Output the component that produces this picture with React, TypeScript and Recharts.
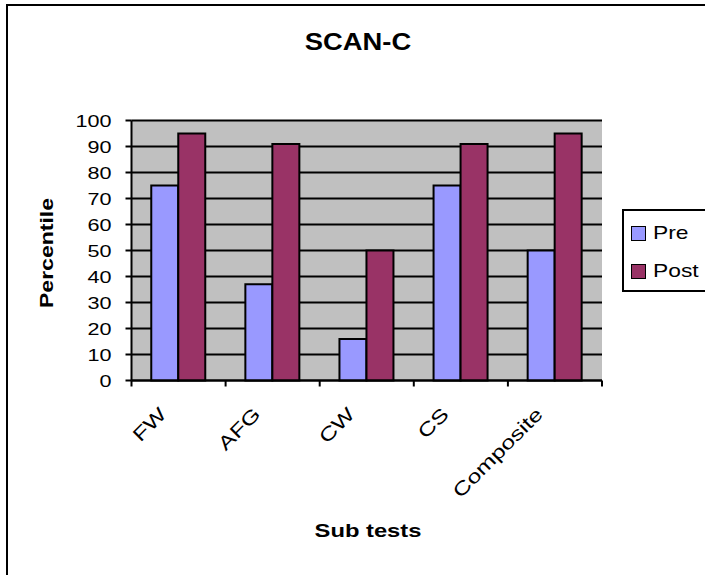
import { Bar, BarChart, CartesianGrid, Legend, ReferenceArea, XAxis, YAxis } from "recharts";

const subTests = ["FW", "AFG", "CW", "CS", "Composite"];
const preScores = [75, 37, 16, 75, 50];
const postScores = [95, 91, 50, 91, 95];
const percentileTicks = [0, 10, 20, 30, 40, 50, 60, 70, 80, 90, 100];
const seriesNames = ["Pre", "Post"];
const seriesColors = ["#9999FF", "#993366"];

const data = subTests.map((name, i) => ({ name, Pre: preScores[i], Post: postScores[i] }));

const W = 705;
const H = 575;
const plotLeft = 131.5;
const plotTop = 120.5;
const plotRight = 602;
const plotBottom = 380.5;
const yAxisW = 60;
const xAxisH = 60;
const band = (plotRight - plotLeft) / subTests.length;
const font = "'Liberation Sans', Arial, sans-serif";

const YTick = (props: any) => {
    const { y, payload } = props;
    return (
        <g transform={`translate(${plotLeft - 20},${y + 6}) scale(1.35,1)`}>
            <text x={0} y={0} textAnchor="end" fontSize={16} fontFamily={font} fill="#000">
                {payload.value}
            </text>
        </g>
    );
};

const XTick = (props: any) => {
    const { x, payload, index } = props;
    const last = index === subTests.length - 1;
    return (
        <g>
            <line x1={x - band / 2} x2={x - band / 2} y1={plotBottom} y2={plotBottom + 6} stroke="#000" strokeWidth={2} />
            {last && (
                <line x1={x + band / 2} x2={x + band / 2} y1={plotBottom} y2={plotBottom + 6} stroke="#000" strokeWidth={2} />
            )}
            <g transform={`translate(${x - 11},${plotBottom + 35}) rotate(-45)`}>
                <text x={0} y={0} textAnchor="end" fontSize={19} fontFamily={font} fill="#000" transform="scale(1.3,1)">
                    {payload.value}
                </text>
            </g>
        </g>
    );
};

const LegendBox = () => (
    <div
        style={{
            width: 110,
            height: 79,
            border: "2px solid #000",
            background: "#fff",
            position: "relative",
            fontFamily: font,
        }}
    >
        {seriesNames.map((s, i) => (
            <div key={s} style={{ position: "absolute", left: 7, top: 14 + i * 38, display: "flex", alignItems: "center" }}>
                <div style={{ width: 13, height: 13, background: seriesColors[i], border: "1.5px solid #000" }} />
                <span
                    style={{
                        marginLeft: 7,
                        fontSize: 19,
                        display: "inline-block",
                        transform: "scaleX(1.2)",
                        transformOrigin: "left center",
                        lineHeight: "16px",
                    }}
                >
                    {s}
                </span>
            </div>
        ))}
    </div>
);

const App = () => {
    return (
        <div style={{ position: "fixed", left: 0, top: 0, width: W, height: H, overflow: "hidden", background: "#fff" }}>
            <div
                style={{
                    position: "absolute",
                    left: 6,
                    top: 4,
                    width: 800,
                    height: 700,
                    borderLeft: "2px solid #000",
                    borderTop: "2px solid #000",
                }}
            />
            <div style={{ position: "absolute", left: 0, top: 0 }}>
                <BarChart
                    width={W}
                    height={H}
                    data={data}
                    margin={{ top: plotTop, right: W - plotRight, left: plotLeft - yAxisW, bottom: H - plotBottom - xAxisH }}
                    barCategoryGap="21%"
                    barGap={0}
                >
                    <CartesianGrid vertical={false} fill="#C0C0C0" stroke="#000" strokeWidth={2} strokeOpacity={1} />
                    <ReferenceArea fill="none" stroke="#808080" strokeWidth={2} fillOpacity={0} ifOverflow="visible" />
                    <XAxis
                        dataKey="name"
                        height={xAxisH}
                        tickLine={false}
                        axisLine={{ stroke: "#000", strokeWidth: 2 }}
                        tick={<XTick />}
                        interval={0}
                    />
                    <YAxis
                        width={yAxisW}
                        domain={[0, 100]}
                        ticks={percentileTicks}
                        tickSize={6}
                        tickLine={{ stroke: "#000", strokeWidth: 2 }}
                        axisLine={{ stroke: "#000", strokeWidth: 2 }}
                        tick={<YTick />}
                    />
                    {seriesNames.map((s, i) => (
                        <Bar key={s} dataKey={s} fill={seriesColors[i]} stroke="#000" strokeWidth={2} isAnimationActive={false} />
                    ))}
                    <Legend
                        layout="vertical"
                        align="center"
                        verticalAlign="middle"
                        content={<LegendBox />}
                        wrapperStyle={{ left: 622, top: 209, width: 120 }}
                    />
                </BarChart>
            </div>
            <svg width={W} height={H} style={{ position: "absolute", left: 0, top: 0, pointerEvents: "none" }}>
                <g transform="translate(358,50) scale(1.19,1)">
                    <text textAnchor="middle" fontSize={23} fontWeight="bold" fontFamily={font}>
                        SCAN-C
                    </text>
                </g>
                <g transform="translate(53,253) rotate(-90) scale(1.28,1)">
                    <text textAnchor="middle" fontSize={18} fontWeight="bold" fontFamily={font}>
                        Percentile
                    </text>
                </g>
                <g transform="translate(368,537) scale(1.25,1)">
                    <text textAnchor="middle" fontSize={19} fontWeight="bold" fontFamily={font}>
                        Sub tests
                    </text>
                </g>
            </svg>
        </div>
    );
};

export default App;
